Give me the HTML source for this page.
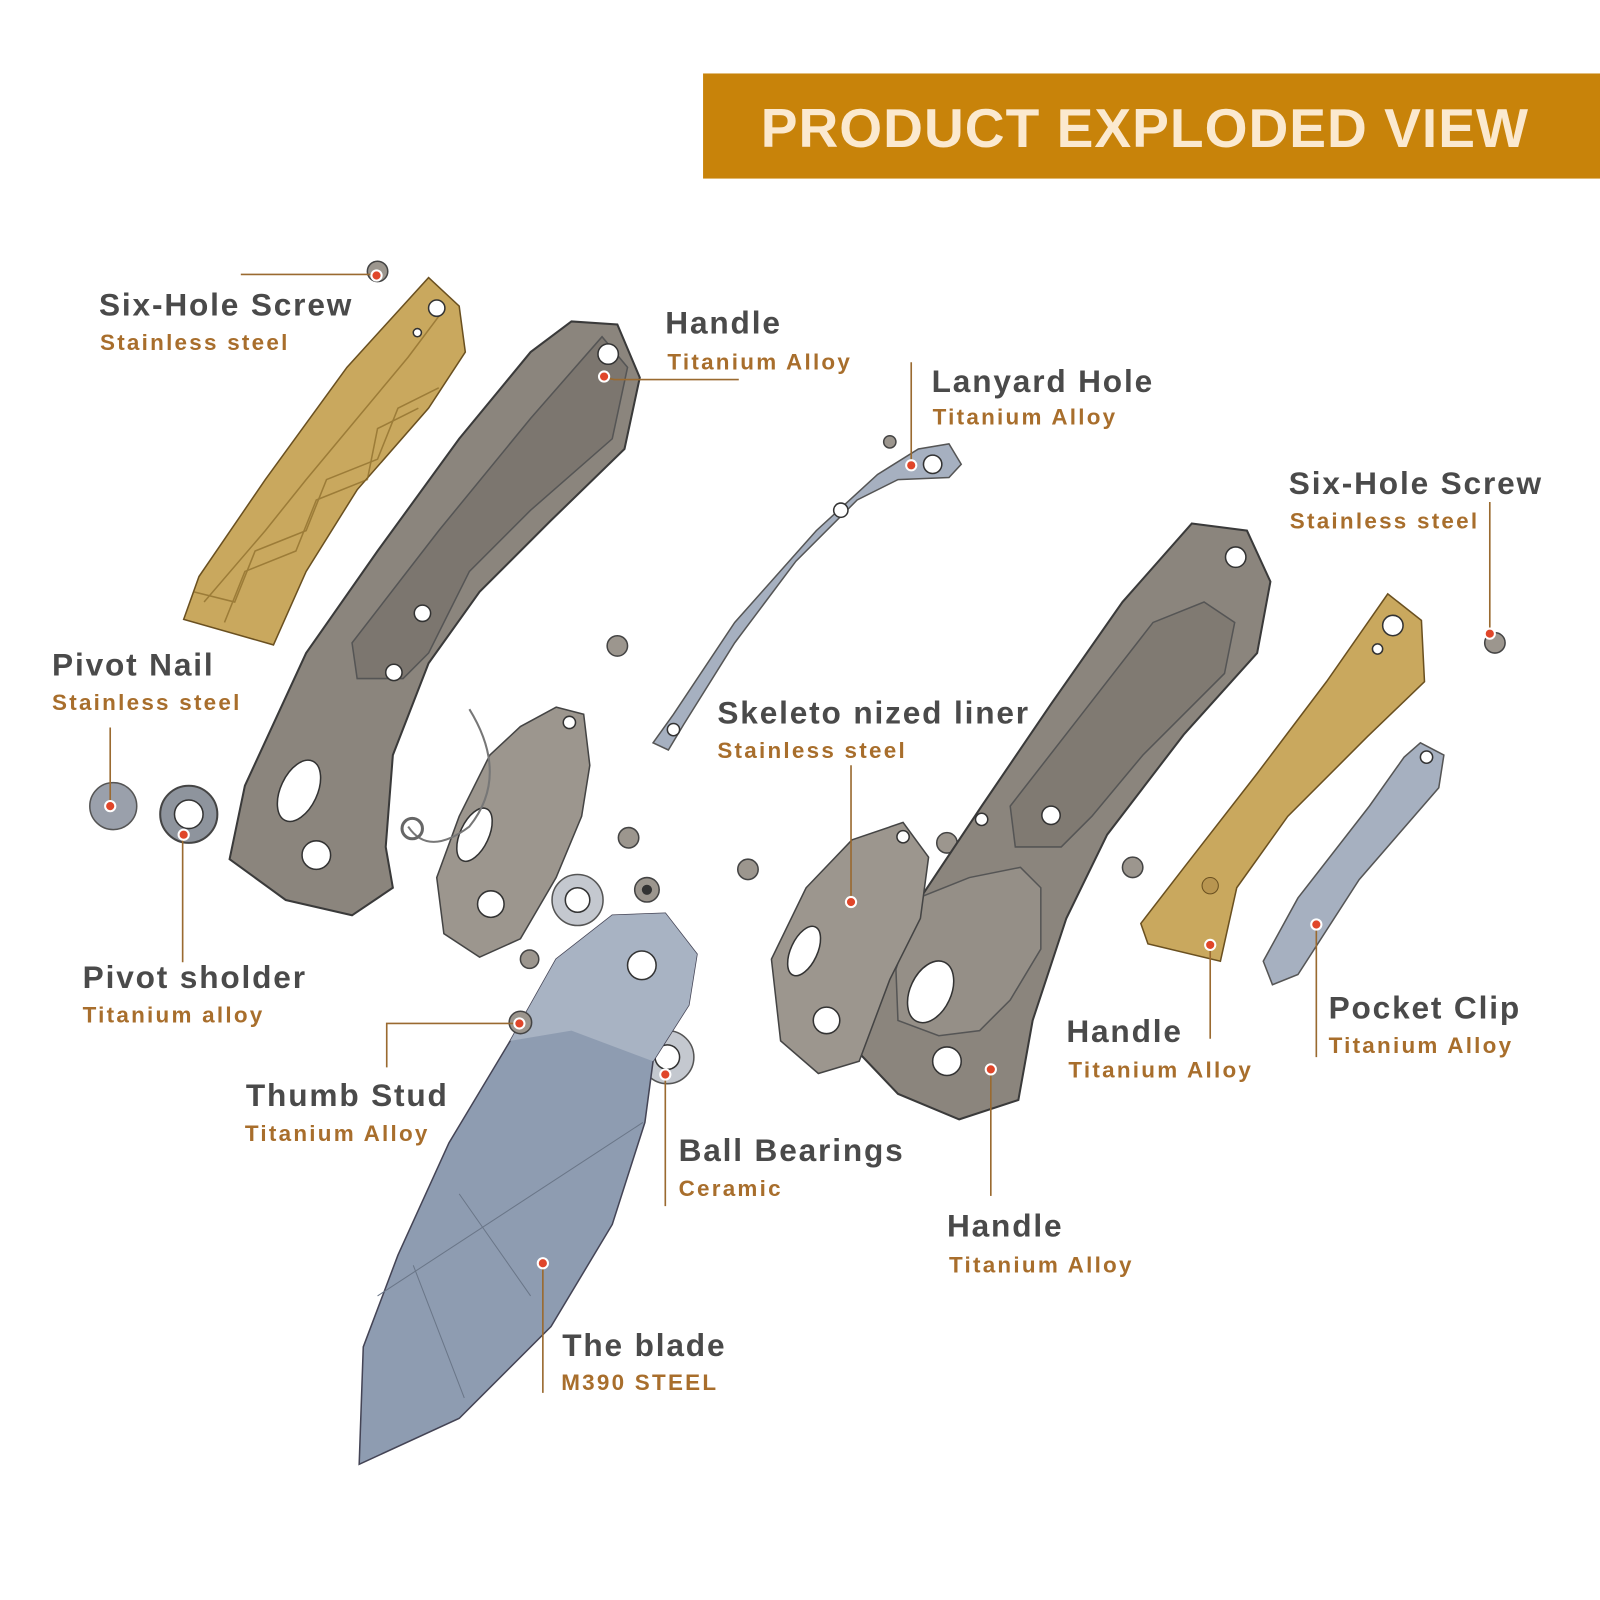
<!DOCTYPE html>
<html><head><meta charset="utf-8"><style>
html,body{margin:0;padding:0;background:#fff;}
svg{display:block}
.t{font-family:"Liberation Sans",sans-serif;font-weight:bold;fill:#4a4a4a;font-size:31px;letter-spacing:1.8px}
.s{font-family:"Liberation Sans",sans-serif;font-weight:bold;fill:#a86e2c;font-size:22px;letter-spacing:2.2px}
.ln{stroke:#9a6a30;stroke-width:1.6;fill:none}
.dot{fill:#e0462a;stroke:#fff;stroke-width:2}
.g{fill:#8b857d;stroke:#3a3a3a;stroke-width:2}
.lg{fill:#9c968e;stroke:#444;stroke-width:1.5}
.b{fill:#a6b0c0;stroke:#555;stroke-width:1.5}
.au{fill:#c9a85e;stroke:#6a5020;stroke-width:1.5}
.h{fill:#fff;stroke:#333;stroke-width:1.5}
</style></head><body>
<svg width="1600" height="1600" viewBox="0 0 1568 1568" xmlns="http://www.w3.org/2000/svg">
<rect x="689" y="72" width="879" height="103" fill="#c8830a"/>
<text x="1122" y="144" text-anchor="middle" font-family="Liberation Sans,sans-serif" font-weight="bold" font-size="54" letter-spacing="1" fill="#fbe9cf">PRODUCT EXPLODED VIEW</text>

<path class="au" d="M420,272 L450,300 L456,345 L420,400 L350,480 L300,560 L268,632 L180,607 L195,565 L260,470 L340,360 Z"/>
<g stroke="#8a6a28" stroke-width="1.5" fill="none" opacity=".7">
<path d="M200,590 L260,520 L300,470 L350,410 L400,350 L430,310"/>
<path d="M220,610 L240,560 L290,540 L310,490 L360,470 L370,420 L410,400"/>
<path d="M190,580 L230,590 L250,540 L300,520 L320,470 L370,450 L390,400 L430,380"/>
</g>
<circle class="h" cx="428" cy="302" r="8"/><circle class="h" cx="409" cy="326" r="4"/>

<path class="g" d="M560,315 L605,318 L627,370 L612,440 L540,510 L470,580 L420,650 L385,740 L378,830 L385,870 L345,897 L280,882 L225,842 L240,770 L300,640 L370,540 L450,430 L520,345 Z"/>
<path fill="#7c766f" stroke="#555" stroke-width="1.5" d="M345,630 L430,520 L520,410 L590,330 L615,360 L600,430 L520,500 L460,560 L420,640 L395,665 L350,665 Z"/>
<circle class="h" cx="596" cy="347" r="10"/><circle class="h" cx="414" cy="601" r="8"/><circle class="h" cx="386" cy="659" r="8"/>
<ellipse class="h" cx="293" cy="775" rx="18" ry="32" transform="rotate(25 293 775)"/>
<circle class="h" cx="310" cy="838" r="14"/>

<path class="lg" d="M545,693 L572,700 L578,750 L570,800 L545,860 L510,920 L470,938 L435,915 L428,860 L450,800 L480,740 L510,712 Z"/>
<ellipse class="h" cx="465" cy="818" rx="14" ry="28" transform="rotate(25 465 818)"/>
<circle class="h" cx="481" cy="886" r="13"/><circle class="h" cx="558" cy="708" r="6"/>
<path d="M460,695 Q500,760 460,810 Q420,840 400,810" stroke="#777" stroke-width="2" fill="none"/>
<circle cx="404" cy="812" r="10" fill="none" stroke="#666" stroke-width="3"/>

<path class="b" d="M640,728 L660,700 L720,610 L800,520 L860,465 L900,440 L930,435 L942,455 L930,468 L880,470 L840,490 L780,550 L720,630 L670,710 L655,735 Z"/>
<circle class="h" cx="824" cy="500" r="7"/><circle class="h" cx="660" cy="715" r="6"/>
<circle class="h" cx="914" cy="455" r="9"/>
<circle class="lg" cx="872" cy="433" r="6"/>

<circle class="lg" cx="605" cy="633" r="10"/><circle class="lg" cx="616" cy="821" r="10"/>
<circle class="lg" cx="733" cy="852" r="10"/><circle class="lg" cx="928" cy="826" r="10"/>
<circle class="lg" cx="1110" cy="850" r="10"/><circle class="lg" cx="519" cy="940" r="9"/>
<circle class="lg" cx="634" cy="872" r="12"/><circle cx="634" cy="872" r="5" fill="#333"/>
<circle class="lg" cx="370" cy="266" r="10"/><circle class="lg" cx="1465" cy="630" r="10"/>
<circle cx="111" cy="790" r="23" fill="#9aa0ab" stroke="#555" stroke-width="1.5"/>
<circle cx="185" cy="798" r="28" fill="#8e949d" stroke="#444" stroke-width="2"/><circle class="h" cx="185" cy="798" r="14"/>
<circle cx="566" cy="882" r="25" fill="#c4c8cf" stroke="#555" stroke-width="1.5"/><circle class="h" cx="566" cy="882" r="12"/>
<circle cx="654" cy="1036" r="26" fill="#c4c8cf" stroke="#555" stroke-width="1.5"/><circle class="h" cx="654" cy="1036" r="12"/>

<path fill="#8e9cb1" stroke="#445" stroke-width="1.5" d="M352,1435 L356,1320 L390,1230 L440,1120 L500,1020 L545,940 L600,897 L652,895 L683,935 L675,985 L640,1040 L632,1100 L600,1200 L540,1300 L450,1390 Z"/>
<path fill="#a8b3c3" d="M500,1020 L545,940 L600,897 L652,895 L683,935 L675,985 L640,1040 L560,1010 Z"/>
<path d="M370,1270 L630,1100 M405,1240 L455,1370 M450,1170 L520,1270" stroke="#6a7688" stroke-width="1" fill="none"/>
<circle class="h" cx="629" cy="946" r="14"/><circle class="lg" cx="510" cy="1002" r="11"/>

<path class="g" d="M1168,513 L1222,520 L1245,570 L1232,640 L1160,720 L1085,818 L1045,900 L1012,1000 L998,1078 L940,1097 L880,1072 L842,1032 L862,960 L902,880 L962,790 L1030,690 L1100,590 Z"/>
<path fill="#807a72" stroke="#555" stroke-width="1.5" d="M990,790 L1060,700 L1130,610 L1180,590 L1210,610 L1200,660 L1120,740 L1070,800 L1040,830 L995,830 Z"/>
<circle class="h" cx="1211" cy="546" r="10"/><circle class="h" cx="1030" cy="799" r="9"/><circle class="h" cx="962" cy="803" r="6"/>
<path fill="#958f87" stroke="#555" stroke-width="1.5" d="M900,880 L950,860 L1000,850 L1020,870 L1020,930 L990,980 L960,1010 L920,1015 L880,1000 L878,950 Z"/>
<ellipse class="h" cx="912" cy="972" rx="20" ry="32" transform="rotate(25 912 972)"/>
<circle class="h" cx="928" cy="1040" r="14"/>
<path class="lg" d="M835,823 L885,806 L910,840 L902,900 L872,960 L842,1040 L802,1052 L765,1020 L756,940 L790,870 Z"/>
<ellipse class="h" cx="788" cy="932" rx="13" ry="26" transform="rotate(25 788 932)"/>
<circle class="h" cx="810" cy="1000" r="13"/><circle class="h" cx="885" cy="820" r="6"/>

<path class="au" d="M1360,582 L1393,608 L1396,668 L1340,722 L1262,800 L1212,870 L1196,942 L1125,925 L1118,905 L1162,848 L1232,758 L1300,668 Z"/>
<circle class="h" cx="1365" cy="613" r="10"/><circle class="h" cx="1350" cy="636" r="5"/>
<circle fill="#b89550" stroke="#6a5020" cx="1186" cy="868" r="8"/>

<path class="b" d="M1392,728 L1415,740 L1410,772 L1332,862 L1272,955 L1247,965 L1238,942 L1272,880 L1342,790 L1376,742 Z"/>
<circle class="h" cx="1398" cy="742" r="6"/>

<path class="ln" d="M236,269 H370"/>
<path class="ln" d="M592,370 L602,372 H724"/>
<path class="ln" d="M893,355 V456"/>
<path class="ln" d="M1460,492 V620"/>
<path class="ln" d="M108,713 V790"/>
<path class="ln" d="M179,818 V943"/>
<path class="ln" d="M379,1046 V1003 H509"/>
<path class="ln" d="M652,1053 V1182"/>
<path class="ln" d="M532,1238 V1365"/>
<path class="ln" d="M834,750 V884"/>
<path class="ln" d="M971,1048 V1172"/>
<path class="ln" d="M1186,926 V1018"/>
<path class="ln" d="M1290,906 V1036"/>
<g>
<circle class="dot" cx="369" cy="270" r="5"/><circle class="dot" cx="592" cy="369" r="5"/>
<circle class="dot" cx="893" cy="456" r="5"/><circle class="dot" cx="1460" cy="621" r="5"/>
<circle class="dot" cx="108" cy="790" r="5"/><circle class="dot" cx="180" cy="818" r="5"/>
<circle class="dot" cx="509" cy="1003" r="5"/><circle class="dot" cx="652" cy="1053" r="5"/>
<circle class="dot" cx="532" cy="1238" r="5"/><circle class="dot" cx="834" cy="884" r="5"/>
<circle class="dot" cx="971" cy="1048" r="5"/><circle class="dot" cx="1186" cy="926" r="5"/>
<circle class="dot" cx="1290" cy="906" r="5"/>
</g>

<text class="t" x="97" y="309">Six-Hole Screw</text><text class="s" x="98" y="343">Stainless steel</text>
<text class="t" x="652" y="327">Handle</text><text class="s" x="654" y="362">Titanium Alloy</text>
<text class="t" x="913" y="384">Lanyard Hole</text><text class="s" x="914" y="416">Titanium Alloy</text>
<text class="t" x="1263" y="484">Six-Hole Screw</text><text class="s" x="1264" y="518">Stainless steel</text>
<text class="t" x="51" y="662">Pivot Nail</text><text class="s" x="51" y="696">Stainless steel</text>
<text class="t" x="703" y="709">Skeleto nized liner</text><text class="s" x="703" y="743">Stainless steel</text>
<text class="t" x="81" y="968">Pivot sholder</text><text class="s" x="81" y="1002">Titanium alloy</text>
<text class="t" x="1302" y="998">Pocket Clip</text><text class="s" x="1302" y="1032">Titanium Alloy</text>
<text class="t" x="1045" y="1021">Handle</text><text class="s" x="1047" y="1056">Titanium Alloy</text>
<text class="t" x="241" y="1084">Thumb Stud</text><text class="s" x="240" y="1118">Titanium Alloy</text>
<text class="t" x="665" y="1138">Ball Bearings</text><text class="s" x="665" y="1172">Ceramic</text>
<text class="t" x="928" y="1212">Handle</text><text class="s" x="930" y="1247">Titanium Alloy</text>
<text class="t" x="551" y="1329">The blade</text><text class="s" x="550" y="1362">M390 STEEL</text>
</svg>
</body></html>
